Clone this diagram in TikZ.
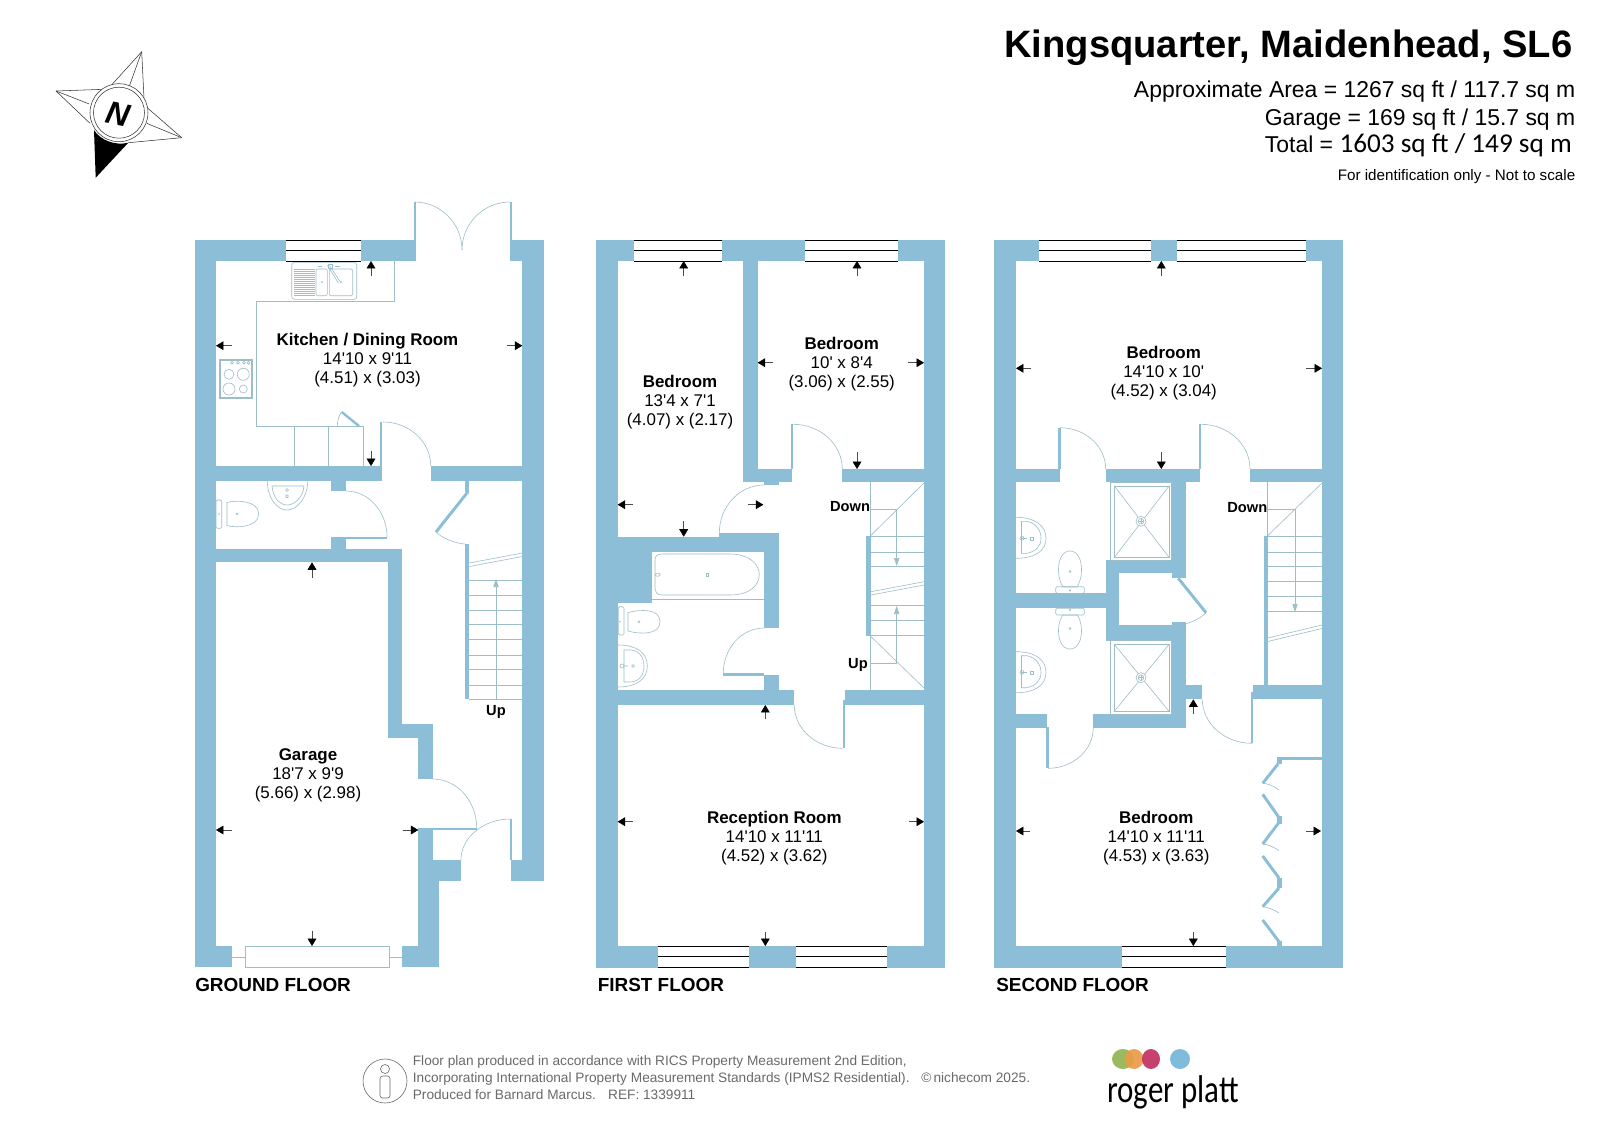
\documentclass[tikz,border=0pt]{standalone}
\usepackage{fontspec}
\usetikzlibrary{calc,arrows.meta}
\setmainfont{Liberation Sans}[Ligatures=TeXOff]
\newfontfamily\calfont{Carlito}
\definecolor{wallc}{HTML}{8CBED8}
\definecolor{thinc}{HTML}{9DBDC9}
\definecolor{footc}{HTML}{6A6A6A}
\definecolor{logog}{HTML}{8FB34F}
\definecolor{logoo}{HTML}{EC9A45}
\definecolor{logor}{HTML}{C22D60}
\definecolor{logob}{HTML}{7FBCDC}
\tikzset{
  x=0.75pt,y=-0.75pt,
  wall/.style={fill=wallc,draw=none},
  fit line/.style={draw=thinc,line width=0.45pt},
  leaf/.style={draw=wallc,line width=2.2pt},
  dimshaft/.style={draw=black!70,line width=0.4pt,-{Triangle[length=5.6pt,width=6.6pt,fill=black,color=black]}},
  winline/.style={draw=black,line width=0.6pt},
  roomname/.style={anchor=base,inner sep=0pt,font=\fontsize{12.7pt}{14pt}\selectfont\bfseries},
  roomdim/.style={anchor=base,inner sep=0pt,font=\fontsize{12.7pt}{14pt}\selectfont},
  stairlabel/.style={anchor=base,inner sep=0pt,font=\fontsize{11pt}{13pt}\selectfont\bfseries},
  floorlabel/.style={anchor=base west,inner sep=0pt,font=\fontsize{14.2pt}{16pt}\selectfont\bfseries},
  headline/.style={anchor=base east,inner sep=0pt},
  footline/.style={anchor=base west,inner sep=0pt,text=footc,font=\fontsize{10.25pt}{12pt}\selectfont},
  compassline/.style={draw=black!80,line width=0.4pt},
}
\newcommand{\wl}[4]{\fill[wall] (#1,#2) rectangle (#3,#4);}
\newcommand{\winh}[4]{\fill[white] (#1,#3) rectangle (#2,#4);
  \draw[winline] (#1,#3) -- (#2,#3);
  \draw[winline] (#1,{(#3+#4)/2}) -- (#2,{(#3+#4)/2});
  \draw[winline] (#1,#4) -- (#2,#4);}
\newcommand{\swing}[3]{\draw[fit line] (#1) .. controls ($(#1)!0.552!(#3)$) and ($(#2)!0.552!(#3)$) .. (#2);}
\newcommand{\dimarr}[4]{\draw[dimshaft] (#1,#2) -- (#3,#4);}
\newcommand{\roomlabel}[6]{%
  \node[roomname] (#1n) at (#2,#3+6) {#4};
  \node[roomdim] (#1a) at (#2,#3+25) {#5};
  \node[roomdim] (#1b) at (#2,#3+44) {#6};}
\newcommand{\basinV}[4]{% wall x, top y, mid y, bottom y
  \draw[fit line] (#1,#2) .. controls (#1+20,#2) and (#1+30,#3-12) .. (#1+30,#3) .. controls (#1+30,#3+12) and (#1+20,#4) .. (#1,#4);
  \draw[fit line] (#1+5,#2+4) -- (#1+5,#4-5);
  \draw[fit line] (#1+5,#2+4) -- (#1+11,#2+4) .. controls (#1+20,#2+6) and (#1+25,#3-8) .. (#1+25,#3) .. controls (#1+25,#3+8) and (#1+20,#4-7) .. (#1+11,#4-5) -- (#1+5,#4-5);
  \draw[fit line] (#1+6,#3) circle[radius=2];
  \draw[fit line] (#1+6,#3) -- (#1+11,#3);
  \draw[fit line] (#1+14,#3-1.5) rectangle (#1+17,#3+1.5);}
\newcommand{\showerbox}[5]{% x1 y1 x2 y2 (outer), drain y
  \draw[fit line] (#1,#2) rectangle (#3,#4);
  \draw[fit line] (#1+3.5,#2+3.5) rectangle (#3-2.5,#4-2.5);
  \draw[fit line] (#1+3.5,#2+3.5) -- (#3-2.5,#4-2.5);
  \draw[fit line] (#3-2.5,#2+3.5) -- (#1+3.5,#4-2.5);
  \fill[white] (1141,#5) circle[radius=5];
  \draw[fit line] (1141,#5) circle[radius=5];
  \draw[fit line] (1141,#5) circle[radius=2.8];
  \draw[fit line] (1138,#5) -- (1144,#5) (1141,#5-3) -- (1141,#5+3);}
\begin{document}
\begin{tikzpicture}
\useasboundingbox (0,0) rectangle (1600,1132);
\fill[white] (0,0) rectangle (1600,1132);

%% ---------- compass
\draw[compassline] (141.7,51.7) -- (110,86.7);
\draw[compassline] (141.7,51.7) -- (144,98);
\draw[compassline] (141.7,51.7) -- (129,87);
\draw[compassline] (56,91) -- (104,89.3);
\draw[compassline] (56,91) -- (90,123.3);
\draw[compassline] (56,91) -- (89.3,104);
\draw[compassline] (181.7,137.7) -- (146.7,107.3);
\draw[compassline] (181.7,137.7) -- (128.3,142.7);
\draw[compassline] (181.7,137.7) -- (146.7,123.3);
\fill[black] (95.7,177.7) -- (94,130) .. controls (100,140) and (115,146) .. (128.3,142.7) -- cycle;
\draw[compassline,fill=white] (119,112.7) circle[radius=29];
\draw[compassline] (119,112.7) circle[radius=25.5];
\node[inner sep=0pt,rotate=-12,font=\fontsize{24pt}{24pt}\selectfont\bfseries\itshape] (north) at (118.5,114.5) {N};

%% ---------- header
\node[headline,font=\fontsize{28.6pt}{30pt}\selectfont\bfseries] (title) at (1572.5,57.5) {Kingsquarter, Maidenhead, SL6};
\node[headline,font=\fontsize{17.2pt}{19pt}\selectfont] (area1) at (1575.5,97.5) {Approximate Area = 1267 sq ft / 117.7 sq m};
\node[headline,font=\fontsize{17.2pt}{19pt}\selectfont] (area2) at (1575.5,125) {Garage = 169 sq ft / 15.7 sq m};
\node[headline,font=\fontsize{17.2pt}{19pt}\selectfont] (area3) at (1572,152) {Total = {\calfont\fontsize{20.4pt}{20pt}\selectfont 1603 sq ft / 149 sq m}};
\node[headline,font=\fontsize{11.4pt}{13pt}\selectfont] (ident) at (1575.5,180) {For identification only - Not to scale};

%% ---------- GROUND FLOOR walls
\wl{195}{240}{216}{967.3}
\wl{195}{240}{286}{261}
\wl{361}{240}{416}{261}
\wl{414.3}{202}{416}{240}
\wl{510}{240}{544}{261}
\wl{510}{202}{511.5}{240}
\wl{522.3}{240}{544}{880.7}
\wl{510.7}{860}{544}{880.7}
\wl{510.2}{819}{511.5}{860}
\wl{216}{466}{381.7}{480.7}
\wl{380}{421.7}{382}{466}
\wl{430.7}{466}{522.3}{480.7}
\wl{331}{480}{345.7}{491}
\wl{331}{537}{345.7}{549}
\wl{345}{536.7}{387}{539}
\wl{216}{549}{402.3}{562.3}
\wl{387.7}{549}{402.3}{737.7}
\wl{387.7}{724}{432.7}{737.7}
\wl{418.3}{724}{432.7}{779}
\wl{418.3}{828}{432.7}{880}
\wl{425}{828}{476.7}{830}
\wl{418.3}{860}{461}{880.7}
\wl{418.3}{880}{439}{967.3}
\wl{402}{946}{439}{967.3}
\wl{195}{946}{232.3}{967.3}
\wl{465}{480}{469.3}{491.7}
\wl{465}{544}{469.3}{699.3}
\draw[leaf] (468,491.7) -- (436,532);
\winh{286}{361}{240}{261}
% garage door
\draw[fit line] (245,946) rectangle (389.3,967.3);
\draw[fit line] (232.3,957.5) -- (245,957.5) (389.3,957.5) -- (402,957.5);
% door swings
\swing{414.5,202}{462,250}{462,202}
\swing{510,202}{462,250}{462,202}
\swing{383,422}{430.7,466}{430.7,422}
\swing{346,491}{387,537}{387,491}
\swing{436,532}{465,544}{447,543}
\swing{432.7,779}{476.7,828}{476.7,779}
\swing{510.7,819}{461,860}{461,819}
% kitchen units
\draw[fit line] (394.3,261) -- (394.3,301) -- (256.7,301) -- (256.7,426.3) -- (363.3,426.3) -- (363.3,466);
\draw[fit line] (294.3,426.3) -- (294.3,466) (328.3,426.3) -- (328.3,466);
\draw[leaf,line width=1.8pt] (341.7,412) -- (359,426);
\swing{341.7,412}{337.3,426}{337.3,416}
% sink
\draw[fit line,rounded corners=2pt] (291.7,262.3) rectangle (356.7,299.3);
\foreach \yy in {269,271,273,275,277,279,281,283,285,287,289,291,293,295.5}{\draw[fit line] (294.3,\yy) -- (315,\yy);}
\draw[fit line,rounded corners=1.5pt] (316,269) rectangle (327.3,295.7);
\draw[fit line,rounded corners=1.5pt] (329.3,269) rectangle (352.7,295.7);
\draw[fit line] (327.5,265.5) -- (338.3,282.8) (329.5,265.5) -- (340.3,282);
\draw[fit line] (318,266) -- (322,266) (335,266) -- (340,266) (328,264) rectangle (332,268);
\fill[thinc] (322,282) circle[radius=1] (341,282) circle[radius=1];
% hob
\draw[fit line] (219.3,359.3) rectangle (252.7,398.3);
\draw[fit line] (220.5,360.5) rectangle (251.5,397);
\draw[fit line] (229,374.3) circle[radius=5] (243.3,374.3) circle[radius=6] (229,389) circle[radius=6] (243.3,389) circle[radius=4];
\foreach \xx in {232,238,244,248.5}{\draw[fit line] (\xx,362.7) circle[radius=1.4];}
% WC
\draw[fit line,rounded corners=1pt] (216,500) rectangle (221.7,528.3);
\draw[fit line] (227,502.5) .. controls (235,500) and (258.7,500) .. (258.7,514) .. controls (258.7,528) and (235,528) .. (227,525.5) -- cycle;
\draw[fit line] (219,514) circle[radius=.5] (237,514) circle[radius=1];
\draw[fit line] (267.3,480.7) .. controls (267.3,498) and (277,510) .. (287,510) .. controls (297,510) and (307.7,498) .. (307.7,480.7);
\draw[fit line] (272,486) .. controls (273,498) and (280,505) .. (287,505) .. controls (294,505) and (303,498) .. (304,486) -- cycle;
\draw[fit line] (287,490) circle[radius=1.5] (286,495) rectangle (288,497.5);
% stairs
\foreach \yy in {580,595,610,624.3,639.3,655,669.3,685,699.3}{\draw[fit line] (469.3,\yy) -- (522.3,\yy);}
\draw[fit line] (469.3,563) -- (522.3,553) (469.3,566.5) -- (522.3,556.5);
\draw[fit line,-{Triangle[length=6pt,width=4pt,fill=thinc]}] (496,699.3) -- (496,579);
\node[stairlabel] (gup) at (496,715) {Up};
% measure arrows
\dimarr{371}{276}{371}{261}
\dimarr{232}{345.7}{216}{345.7}
\dimarr{507}{345.7}{522.3}{345.7}
\dimarr{371}{451}{371}{466}
\dimarr{312}{578}{312}{562.3}
\dimarr{232}{830}{216}{830}
\dimarr{402.7}{830}{418.3}{830}
\dimarr{312}{930.7}{312}{946}
\roomlabel{kit}{367.5}{339}{Kitchen / Dining Room}{14'10 x 9'11}{(4.51) x (3.03)}
\roomlabel{gar}{308}{754}{Garage}{18'7 x 9'9}{(5.66) x (2.98)}
\node[floorlabel] (gf) at (195,991.5) {GROUND FLOOR};

%% ---------- FIRST FLOOR walls
\wl{596}{240}{617.7}{967.7}
\wl{924}{240}{945}{967.7}
\wl{596}{240}{945}{261}
\wl{596}{946}{945}{967.7}
\wl{743.3}{240}{757.7}{481.7}
\wl{743.3}{469}{792.3}{481.7}
\wl{791}{424.3}{793}{469}
\wl{842.3}{469}{924}{481.7}
\wl{764}{481}{779}{485}
\wl{617.7}{536.7}{779}{551.7}
\wl{719.3}{533.3}{779}{536.7}
\wl{764}{533}{779}{628}
\wl{617.7}{536.7}{652}{602.7}
\wl{764}{675}{779}{690}
\wl{723.3}{673.3}{764}{675.7}
\wl{617.7}{690}{794.3}{705}
\wl{845}{690}{924}{705}
\wl{842.7}{700}{845.3}{748.3}
\wl{866}{536}{871}{635.7}
\winh{634.3}{722.3}{240}{261}
\winh{805}{898.3}{240}{261}
\winh{658}{749}{946}{967.7}
\winh{795.7}{887}{946}{967.7}
\swing{793,424.3}{842.3,469}{842.3,424.3}
\swing{764,485}{719.3,533.3}{719.3,485}
\swing{764,628}{723.3,673.3}{723.3,628}
\swing{842.7,748.3}{794.3,705}{794.3,748.3}
% bath
\draw[fit line] (652,599.3) -- (764,599.3);
\draw[fit line] (662,554) -- (730,554) .. controls (750,554) and (759.3,565) .. (759.3,574.5) .. controls (759.3,585) and (750,595) .. (730,595) -- (662,595) .. controls (657,595) and (655,592) .. (655,589) -- (655,560) .. controls (655,556) and (657,554) .. (662,554) -- cycle;
\draw[fit line] (657.7,574.7) ellipse[x radius=2.5,y radius=1.6];
\draw[fit line] (706,573) rectangle (708.5,576.5);
% toilet and basin
\draw[fit line,rounded corners=1pt] (618.3,606.7) rectangle (624,635);
\draw[fit line] (628,612.5) .. controls (640,609.5) and (660,608) .. (660,621.7) .. controls (660,635) and (640,634.5) .. (628,631) -- cycle;
\draw[fit line] (639,621.7) circle[radius=1] (620,621.7) circle[radius=.5];
\draw[fit line] (618,645) .. controls (637,645) and (647.3,653) .. (647.3,666) .. controls (647.3,679) and (637,687) .. (618,687);
\draw[fit line] (624,650) -- (624,682) -- (630,682) .. controls (638,682) and (644,676) .. (644,666) .. controls (644,656) and (638,650) .. (630,650) -- cycle;
\draw[fit line] (622,666) circle[radius=2] (624,666) -- (628,666) (632,665) rectangle (634,667);
% stairs
\draw[fit line] (870.3,481.7) -- (870.3,536);
\draw[fit line] (870.3,636) -- (870.3,690);
\draw[fit line] (870.3,536) -- (924,483);
\draw[fit line] (870.3,509.3) -- (896.7,509.3);
\draw[fit line] (870.3,636) -- (924,688);
\draw[fit line] (870.3,663.3) -- (896.7,663.3);
\foreach \yy in {536,552.5,566.7,605,620,635.7}{\draw[fit line] (871,\yy) -- (924,\yy);}
\draw[fit line] (871,591.7) -- (924,581.7) (871,595) -- (924,585);
\draw[fit line,-{Triangle[length=6pt,width=4pt,fill=thinc]}] (896.7,509.3) -- (896.7,566);
\draw[fit line,-{Triangle[length=6pt,width=4pt,fill=thinc]}] (896.7,663.3) -- (896.7,606);
\node[stairlabel] (fdown) at (850,511.5) {Down};
\node[stairlabel] (fup) at (858,668) {Up};
% arrows
\dimarr{683.7}{276}{683.7}{261}
\dimarr{857}{276}{857}{261}
\dimarr{772.7}{362.7}{757.7}{362.7}
\dimarr{908.3}{362.7}{924}{362.7}
\dimarr{633}{504.7}{617.7}{504.7}
\dimarr{747.7}{504.7}{763.3}{504.7}
\dimarr{683.7}{521}{683.7}{536.7}
\dimarr{857}{452}{857}{469}
\dimarr{765.3}{719}{765.3}{705}
\dimarr{633}{821.7}{617.7}{821.7}
\dimarr{909}{821.7}{924}{821.7}
\dimarr{765.3}{932.3}{765.3}{946}
\roomlabel{bedA}{680}{381}{Bedroom}{13'4 x 7'1}{(4.07) x (2.17)}
\roomlabel{bedB}{841.7}{343.5}{Bedroom}{10' x 8'4}{(3.06) x (2.55)}
\roomlabel{rec}{774.3}{817.3}{Reception Room}{14'10 x 11'11}{(4.52) x (3.62)}
\node[floorlabel] (ff) at (597.5,991.5) {FIRST FLOOR};

%% ---------- SECOND FLOOR walls
\wl{994}{240}{1016}{967.7}
\wl{1322}{240}{1343}{967.7}
\wl{994}{240}{1343}{261}
\wl{994}{946}{1343}{967.7}
\wl{1016}{469}{1060}{481.7}
\wl{1058.3}{427.7}{1060.5}{469}
\wl{1105.7}{469}{1200}{481.7}
\wl{1199}{424.3}{1201}{469}
\wl{1250}{469}{1322}{481.7}
\wl{1171.7}{481}{1185.7}{578.3}
\wl{1105.7}{560}{1185.7}{573.3}
\wl{1105.7}{560}{1119.3}{640.7}
\wl{1016}{593.3}{1105.7}{608.3}
\wl{1105.7}{625}{1185.7}{640.7}
\wl{1171.7}{622}{1185.7}{727.7}
\wl{1093.3}{714}{1185.7}{727.7}
\wl{1016}{714}{1047}{727.7}
\wl{1046}{727}{1048.5}{768.3}
\wl{1185.7}{685}{1202.3}{699.3}
\wl{1253.3}{685}{1322}{699.3}
\wl{1250.7}{691.7}{1253}{743.3}
\wl{1264}{536}{1267.7}{685}
\wl{1277.3}{756.7}{1322}{760}
\wl{1277.3}{756.7}{1282}{764}
\wl{1277}{816}{1282}{824}
\wl{1277}{878}{1282}{888}
\wl{1277}{941}{1282}{946}
\draw[leaf] (1278,764) -- (1262.7,783.3);
\draw[leaf] (1262.7,794.3) -- (1279.3,818);
\draw[leaf] (1279.3,822) -- (1262.7,844);
\draw[leaf] (1262.7,856) -- (1279,878);
\draw[leaf] (1279,888) -- (1262.7,906.7);
\draw[leaf] (1262.7,920) -- (1279,941.7);
\draw[leaf] (1178.3,578.3) -- (1206,612.7);
\swing{1262.7,783.3}{1279,790}{1270,783}
\swing{1262.7,844}{1279,850.7}{1270,844}
\swing{1262.7,906.7}{1279,913}{1270,907}
\winh{1039}{1150.7}{240}{261}
\winh{1176.7}{1305.7}{240}{261}
\winh{1121.7}{1226}{946}{967.7}
\swing{1060,427.7}{1105.7,469}{1105.7,427.7}
\swing{1201,424.3}{1250,469}{1250,424.3}
\swing{1048,768.3}{1093.3,727.7}{1093.3,768.3}
\swing{1252,743.3}{1202.3,699.3}{1202.3,743.3}
\swing{1206,612.7}{1172,626.7}{1195,625}
% showers
\showerbox{1110.7}{482.3}{1171.7}{560}{521.3}
\showerbox{1110.7}{640.7}{1171.7}{714}{677.7}
% basins
\basinV{1016}{517.3}{538.3}{558.3}
\basinV{1016}{651.7}{672.3}{692.7}
% toilets
\draw[fit line] (1070,551) .. controls (1078,551) and (1081.5,560) .. (1081.5,570) .. controls (1081.5,578) and (1079,584) .. (1077,587) -- (1063,587) .. controls (1061,584) and (1058.5,578) .. (1058.5,570) .. controls (1058.5,560) and (1062,551) .. (1070,551) -- cycle;
\draw[fit line,rounded corners=1pt] (1055.7,586.7) rectangle (1084.3,593.3);
\draw[fit line] (1070,571.5) circle[radius=1] (1070,590.5) circle[radius=.6];
\draw[fit line] (1070,649) .. controls (1078,649) and (1081.5,640) .. (1081.5,631) .. controls (1081.5,623) and (1079,617) .. (1077,615) -- (1063,615) .. controls (1061,617) and (1058.5,623) .. (1058.5,631) .. controls (1058.5,640) and (1062,649) .. (1070,649) -- cycle;
\draw[fit line,rounded corners=1pt] (1055.7,608.3) rectangle (1084.3,615);
\draw[fit line] (1070,628.5) circle[radius=1] (1070,610) circle[radius=.6];
% stairs
\draw[fit line] (1267.3,481.7) -- (1267.3,536);
\draw[fit line] (1267.3,536) -- (1322,483);
\draw[fit line] (1267.3,509.3) -- (1295,509.3);
\foreach \yy in {536,552.7,566.7,581,596.7,611}{\draw[fit line] (1267.7,\yy) -- (1322,\yy);}
\draw[fit line] (1267.7,638) -- (1322,625) (1267.7,641.5) -- (1322,628.5);
\draw[fit line,-{Triangle[length=6pt,width=4pt,fill=thinc]}] (1295,509.3) -- (1295,612);
\node[stairlabel] (sdown) at (1247.3,512) {Down};
% arrows
\dimarr{1161.3}{276}{1161.3}{261}
\dimarr{1031}{368.3}{1016}{368.3}
\dimarr{1306}{368.3}{1322}{368.3}
\dimarr{1161.3}{452}{1161.3}{469}
\dimarr{1193.3}{714}{1193.3}{699.3}
\dimarr{1030}{831}{1016}{831}
\dimarr{1306}{831}{1321}{831}
\dimarr{1193.3}{932}{1193.3}{946}
\roomlabel{bedC}{1163.7}{352.3}{Bedroom}{14'10 x 10'}{(4.52) x (3.04)}
\roomlabel{bedD}{1156.3}{817.3}{Bedroom}{14'10 x 11'11}{(4.53) x (3.63)}
\node[floorlabel] (sf) at (996,991.5) {SECOND FLOOR};

%% ---------- footer
\draw[footc,line width=0.45pt] (385,1081) circle[radius=22];
\draw[footc,line width=0.45pt,rounded corners=2pt] (380,1076) rectangle (390,1098);
\draw[footc,line width=0.45pt] (385,1069) circle[radius=4.5];
\node[footline] (foot1) at (412.6,1065) {Floor plan produced in accordance with RICS Property Measurement 2nd Edition,};
\node[footline] (foot2) at (412.6,1082) {Incorporating International Property Measurement Standards (IPMS2 Residential).};
\node[footline] (foot3) at (412.6,1099) {Produced for Barnard Marcus.\hspace{0.9em}REF: 1339911};
\node[footline] (foot4) at (921,1082) {©\,nichecom 2025.};
% logo
\begin{scope}[opacity=0.9]
\fill[logog] (1123,1059) ellipse[x radius=11,y radius=10];
\fill[logoo] (1134,1059) ellipse[x radius=9.5,y radius=10];
\fill[logor] (1151,1059) ellipse[x radius=9,y radius=10];
\end{scope}
\fill[logob] (1180,1059) ellipse[x radius=10,y radius=10];
\node[anchor=base west,inner sep=0pt,xscale=0.8,font=\calfont\fontsize{29pt}{30pt}\selectfont] (logo) at (1107,1102) {roger platt};
\end{tikzpicture}
\end{document}
